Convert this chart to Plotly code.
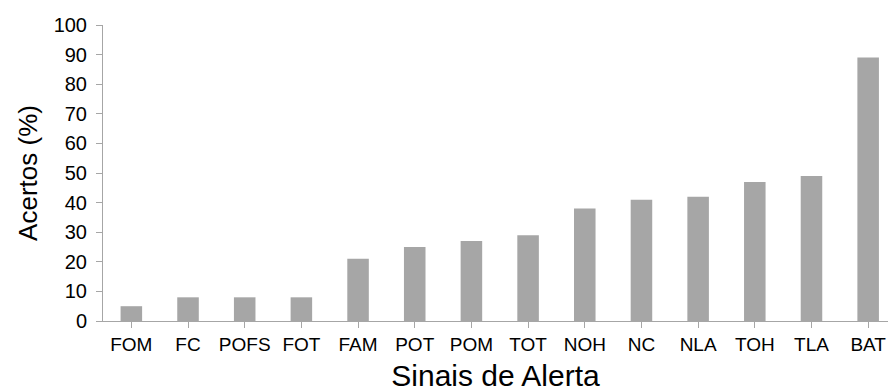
import plotly.graph_objects as go

categories = ["FOM", "FC", "POFS", "FOT", "FAM", "POT", "POM", "TOT", "NOH", "NC", "NLA", "TOH", "TLA", "BAT"]
values = [5, 8, 8, 8, 21, 25, 27, 29, 38, 41, 42, 47, 49, 89]
y_ticks = [0, 10, 20, 30, 40, 50, 60, 70, 80, 90, 100]

fig = go.Figure(go.Bar(x=list(range(len(categories))), y=values, marker_color="#A6A6A6",
                       marker_line_width=0, width=0.38))

font = "Liberation Sans, Arial, sans-serif"
fig.update_layout(
    width=888, height=392,
    margin=dict(l=103, r=0, t=25, b=71),
    plot_bgcolor="white", paper_bgcolor="white",
    showlegend=False,
    xaxis=dict(
        range=[-0.5, 13.35], automargin=False,
        tickmode="array", tickvals=list(range(len(categories))), ticktext=categories,
        tickfont=dict(family=font, size=19, color="#000"),
        ticklabeloverflow="allow",
        showline=True, linecolor="#A6A6A6", linewidth=1,
        ticks="outside", tickson="boundaries", ticklen=6, tickcolor="#A6A6A6",
        showgrid=False, zeroline=False,
        title=dict(text="Sinais de Alerta", font=dict(family=font, size=30, color="#000"), standoff=12),
    ),
    yaxis=dict(
        range=[0, 100], automargin=False,
        tickmode="array", tickvals=y_ticks,
        tickfont=dict(family=font, size=20, color="#000"),
        ticklabelstandoff=5,
        showline=True, linecolor="#A6A6A6", linewidth=1,
        ticks="outside", ticklen=6, tickcolor="#A6A6A6",
        showgrid=False, zeroline=False,
        title=dict(text="Acertos (%)", font=dict(family=font, size=26, color="#000"), standoff=8),
    ),
)
fig.write_html(
    "out.html",
    config={"displayModeBar": False},
    post_script="document.body.style.margin='0';document.body.style.overflow='hidden';",
)
